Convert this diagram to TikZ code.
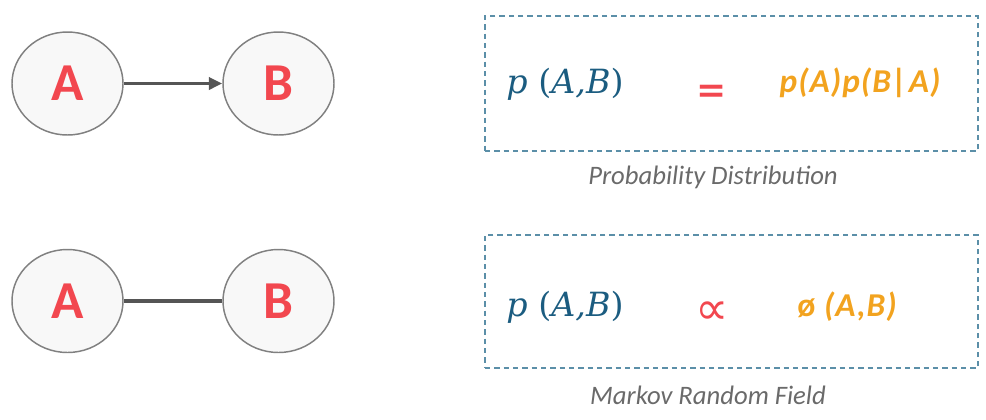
\documentclass[tikz,border=0pt]{standalone}
\usepackage{fontspec}
\setmainfont{Carlito}
\newfontfamily\eqserif{DejaVu Serif}
\newfontfamily\symsans{DejaVu Sans}
\usetikzlibrary{arrows.meta,shapes.geometric}
\definecolor{nodered}{HTML}{F2474F}
\definecolor{nodefill}{HTML}{F8F8F8}
\definecolor{nodeline}{HTML}{808080}
\definecolor{edgegray}{HTML}{555555}
\definecolor{eqblue}{HTML}{1B5C80}
\definecolor{eqorange}{HTML}{F2A31F}
\definecolor{boxblue}{HTML}{5B8FA8}
\definecolor{capgray}{HTML}{6A6A6A}
\tikzset{
  var/.style={ellipse, draw=nodeline, line width=1.1pt, fill=nodefill,
    minimum width=111*0.75pt, minimum height=103*0.75pt, inner sep=0pt,
    text=nodered, font=\fontsize{40}{40}\selectfont\bfseries},
  edge/.style={draw=edgegray, line width=2.5pt},
  frame/.style={draw=boxblue, line width=1.1pt, dash pattern=on 4pt off 3pt},
  lhs/.style={anchor=base, text=eqblue, font=\eqserif\fontsize{25}{25}\selectfont, inner sep=0pt},
  rel/.style={text=nodered, inner sep=0pt},
  rhs/.style={anchor=base, text=eqorange, font=\fontsize{25}{25}\selectfont\bfseries\itshape\addfontfeature{LetterSpace=3}, inner sep=0pt},
  captext/.style={anchor=base, text=capgray, font=\fontsize{20}{20}\selectfont\itshape, inner sep=0pt}
}
\begin{document}
\begin{tikzpicture}[x=0.75pt,y=-0.75pt]
\useasboundingbox (0,0) rectangle (986,419);
% top: directed
\node[var] (a1) at (67.5,83.5) {A};
\node[var] (b1) at (278.5,83.5) {B};
\draw[edge,-{Triangle[length=10pt,width=9pt]}] (a1) -- (b1);
% bottom: undirected
\node[var] (a2) at (67.5,301) {A};
\node[var] (b2) at (278.5,301) {B};
\draw[edge, line width=3pt] (a2) -- (b2);
% boxes
\node[frame, minimum width=493*0.75pt, minimum height=135*0.75pt] (box1) at (731.5,83.5) {};
\node[frame, minimum width=493*0.75pt, minimum height=133*0.75pt] (box2) at (731.5,301.5) {};
% equations
\node[lhs] (l1) at (565,93) {\textit{p} (\textit{A,B})};
\node[rel, font=\eqserif\bfseries\fontsize{27}{27}\selectfont] (r1) at (712,93.5) {=};
\node[rhs] (q1) at (860,92) {p(A)p(B|A)};
\node[lhs] (l2) at (565,316) {\textit{p} (\textit{A,B})};
\node[rel, font=\symsans\fontsize{35}{35}\selectfont] (r2) at (712,313) {∝};
\node[rhs] (q2) at (847,316) {\upshape ø \itshape(A,B)};
% captions
\node[captext] (c1) at (713,184) {Probability Distribution};
\node[captext] (c2) at (708,404) {Markov Random Field};
\end{tikzpicture}
\end{document}
